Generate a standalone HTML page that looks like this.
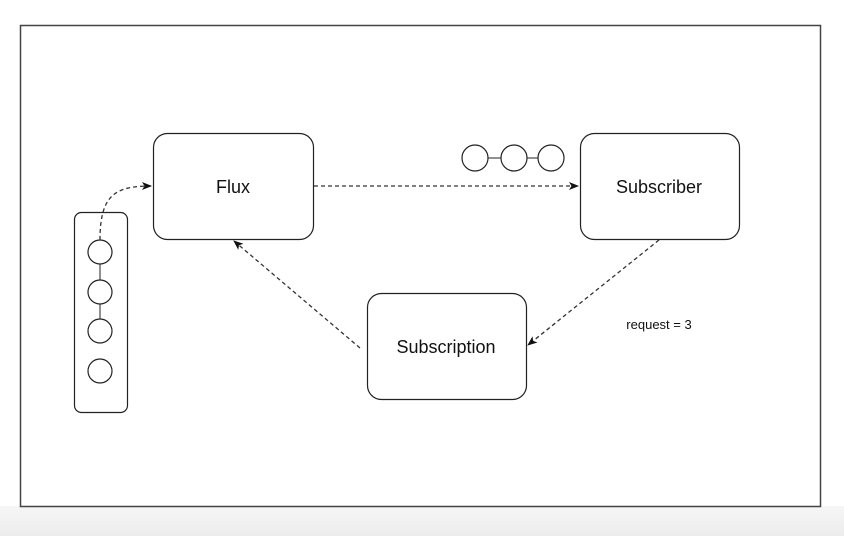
<!DOCTYPE html>
<html><head><style>
html,body{margin:0;padding:0;width:844px;height:536px;overflow:hidden;background:#fff;}
.bg{position:absolute;left:0;top:506px;width:844px;height:30px;background:linear-gradient(#f6f6f6,#ececec);}
svg{position:absolute;left:0;top:0;}
text{font-family:"Liberation Sans",sans-serif;fill:#111;}
</style></head><body>
<div class="bg"></div>
<svg width="844" height="536" viewBox="0 0 844 536">
<defs><marker id="a" markerWidth="10" markerHeight="10" refX="9" refY="5" orient="auto" markerUnits="userSpaceOnUse"><path d="M0,1 L10,5 L0,9 L2.5,5 Z" fill="#111"/></marker></defs>
<rect x="20.5" y="25.5" width="800" height="481" fill="#fff" stroke="#444" stroke-width="1.5"/>
<g fill="#fff" stroke="#222" stroke-width="1.2">
<rect x="153.5" y="133.5" width="160" height="106" rx="14"/>
<rect x="580.5" y="133.5" width="159" height="106" rx="14"/>
<rect x="367.5" y="293.5" width="159" height="106" rx="14"/>
<rect x="74.5" y="212.5" width="53" height="200" rx="7"/>
</g>
<g stroke="#222" stroke-width="1" fill="none">
<line x1="100" y1="264" x2="100" y2="280"/><line x1="100" y1="304" x2="100" y2="319"/>
<line x1="488" y1="158" x2="501" y2="158"/><line x1="527" y1="158" x2="538" y2="158"/>
</g>
<g fill="#fff" stroke="#222" stroke-width="1.2">
<circle cx="100" cy="252" r="12"/><circle cx="100" cy="292" r="12"/><circle cx="100" cy="331" r="12"/><circle cx="100" cy="371" r="12"/>
<circle cx="475" cy="158" r="13"/><circle cx="514" cy="158" r="13"/><circle cx="551" cy="158" r="13"/>
</g>
<g stroke="#333" stroke-width="1.3" fill="none" stroke-dasharray="4 3">
<line x1="314" y1="186" x2="578" y2="186" marker-end="url(#a)"/>
<line x1="659" y1="240" x2="528" y2="345" marker-end="url(#a)"/>
<line x1="360" y1="348" x2="234" y2="241" marker-end="url(#a)"/>
<path d="M100,240 C100,195 115,186 151,186" marker-end="url(#a)"/>
</g>
<text x="233" y="193" font-size="18" text-anchor="middle">Flux</text>
<text x="659" y="193" font-size="18" text-anchor="middle">Subscriber</text>
<text x="446" y="353" font-size="18" text-anchor="middle">Subscription</text>
<text x="659" y="329" font-size="13" text-anchor="middle">request = 3</text>
</svg>
</body></html>
